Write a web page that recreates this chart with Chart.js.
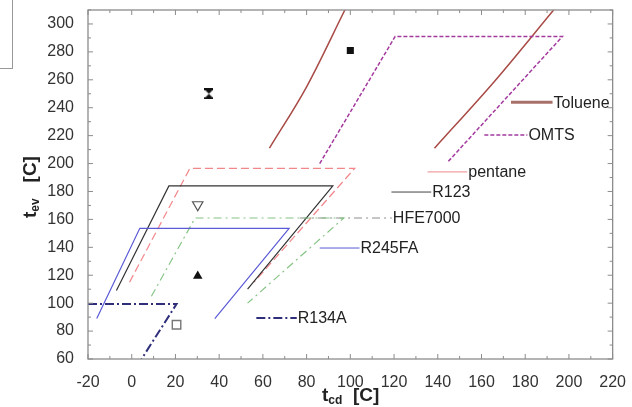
<!DOCTYPE html>
<html>
<head>
<meta charset="utf-8">
<script src="https://cdn.jsdelivr.net/npm/chart.js@4/dist/chart.umd.min.js"></script>
<style>
html, body { margin: 0; padding: 0; background: #fff; }
#wrap { position: relative; width: 632px; height: 407px; overflow: hidden; }
#chart { position: absolute; left: 0; top: 0; }
.atitle { position: absolute; font-family: "Liberation Sans", Arial, sans-serif; font-weight: bold; font-size: 19px; color: #222; white-space: nowrap; line-height: 19px; }
.atitle sub { font-size: 12px; vertical-align: -3px; }
#ytitle { left: 32px; top: 187px; transform: translate(-50%, -50%) rotate(-90deg); }
#xtitle { left: 322px; top: 385px; }
#scrap { position: absolute; left: 0; top: 0; width: 12px; height: 68px; border-right: 1px solid #999; border-bottom: 1px solid #999; }
</style>
</head>
<body>
<div id="wrap">
  <canvas id="chart" width="632" height="407"></canvas>
  <div id="scrap"></div>
  <div class="atitle" id="ytitle">t<sub>ev</sub>&nbsp;&nbsp; [C]</div>
  <div class="atitle" id="xtitle">t<sub>cd</sub>&nbsp; [C]</div>
</div>
<script>
// DATA -----------------------------------------------------------------------

const xTicks = [-20, 0, 20, 40, 60, 80, 100, 120, 140, 160, 180, 200, 220]
const yTicks = [60, 80, 100, 120, 140, 160, 180, 200, 220, 240, 260, 280, 300]

// fluid regions (t_cd, t_ev)
const tolueneLeftX = [63, 80, 97.5]
const tolueneLeftY = [211, 255, 310]
const tolueneRightX = [138.5, 166, 193]
const tolueneRightY = [211, 259, 310]
const omtsX = [86, 120.5, 197, 144.5]
const omtsY = [200, 291, 291, 201]
const pentaneX = [-1, 26.6, 102, 56]
const pentaneY = [115, 196.6, 196.6, 115]
const r123X = [-7, 17, 92, 53]
const r123Y = [109, 184, 184, 110]
const hfeX = [9, 29, 97, 53]
const hfeY = [105, 161, 161, 100]
const r245faX = [-16, 3.7, 72, 38]
const r245faY = [89, 153.6, 153.6, 89]
const r134aX = [-20, 20.5, 4.5]
const r134aY = [99.4, 99.4, 60]

// labels with leader lines
const labelNames = ['Toluene', 'OMTS', 'pentane', 'R123', 'HFE7000', 'R245FA', 'R134A']
const leaderStartX = [173.5, 161.3, 135.3, 118.8, 77, 86, 57]
const leaderEndX = [192.5, 181, 153.5, 137, 119, 104.2, 75.5]
const leaderY = [244, 220.5, 194, 179.6, 161, 139.5, 89.4]

// single points
const markerX = [35.3, 100, 30.2, 30.2, 20.5]
const markerY = [250, 281, 170.5, 119.5, 84.5]

// STYLES ---------------------------------------------------------------------

const fluidStyle = {
    toluene: {color: '#a84a46', width: 1.5, dash: []},
    omts: {color: '#a33a9e', width: 1.5, dash: [4, 2]},
    pentane: {color: '#f2868a', width: 1.2, dash: [8, 4]},
    r123: {color: '#333333', width: 1.2, dash: []},
    hfe: {color: '#86c486', width: 1.2, dash: [8, 4, 2, 4]},
    r245fa: {color: '#5a5ad6', width: 1.2, dash: []},
    r134a: {color: '#2e2e7a', width: 2, dash: [9, 3, 2, 3]}
}
const leaderStyle = [
    {color: '#a8706a', width: 3, dash: []},
    {color: '#a33a9e', width: 1.5, dash: [4, 2]},
    {color: '#f2a0a4', width: 1.2, dash: []},
    {color: '#444444', width: 1, dash: []},
    {color: '#8a8f8a', width: 1, dash: [8, 4, 2, 4]},
    {color: '#5a5ad6', width: 1, dash: []},
    {color: '#2e2e7a', width: 2, dash: [9, 3, 2, 3]}
]

// DATASET OBJECTS ------------------------------------------------------------

function zip(xs, ys) {
    return xs.map((x, i) => ({x: x, y: ys[i]}))
}

function lineDataset(xs, ys, style, curved) {
    return {
        data: zip(xs, ys),
        showLine: true,
        borderColor: style.color,
        borderWidth: style.width,
        borderDash: style.dash,
        pointRadius: 0,
        fill: false,
        tension: curved ? 0.4 : 0,
        cubicInterpolationMode: curved ? 'monotone' : 'default'
    }
}

function hourglass() {
    const c = document.createElement('canvas')
    c.width = 9
    c.height = 11
    const g = c.getContext('2d')
    g.fillStyle = '#111'
    g.fillRect(0, 0, 9, 2)
    g.fillRect(0, 9, 9, 2)
    g.beginPath()
    g.moveTo(1, 2); g.lineTo(8, 2); g.lineTo(4.5, 5.5)
    g.lineTo(8, 9); g.lineTo(1, 9); g.lineTo(4.5, 5.5)
    g.closePath()
    g.fill()
    return c
}

const markerStyle = [
    {style: hourglass(), radius: 6, bg: '#111', border: '#111', bw: 0, rot: 0},
    {style: 'rect', radius: 5, bg: '#111', border: '#111', bw: 0, rot: 0},
    {style: 'triangle', radius: 6, bg: 'rgba(255,255,255,0)', border: '#555', bw: 1.2, rot: 180},
    {style: 'triangle', radius: 5.5, bg: '#111', border: '#111', bw: 0, rot: 0},
    {style: 'rect', radius: 6, bg: '#fff', border: '#777', bw: 1.4, rot: 0}
]

function markerDataset(i) {
    const m = markerStyle[i]
    return {
        data: [{x: markerX[i], y: markerY[i]}],
        showLine: false,
        pointStyle: m.style,
        pointRadius: m.radius,
        pointRotation: m.rot,
        pointBackgroundColor: m.bg,
        pointBorderColor: m.border,
        pointBorderWidth: m.bw
    }
}

const datasets = [
    lineDataset(r134aX, r134aY, fluidStyle.r134a),
    lineDataset(r245faX, r245faY, fluidStyle.r245fa),
    lineDataset(hfeX, hfeY, fluidStyle.hfe),
    lineDataset(r123X, r123Y, fluidStyle.r123),
    lineDataset(pentaneX, pentaneY, fluidStyle.pentane),
    lineDataset(omtsX, omtsY, fluidStyle.omts),
    lineDataset(tolueneLeftX, tolueneLeftY, fluidStyle.toluene, true),
    lineDataset(tolueneRightX, tolueneRightY, fluidStyle.toluene, true)
]
labelNames.forEach((name, i) => {
    datasets.push(lineDataset([leaderStartX[i], leaderEndX[i]], [leaderY[i], leaderY[i]], leaderStyle[i]))
})
markerX.forEach((x, i) => datasets.push(markerDataset(i)))

// PLUGINS --------------------------------------------------------------------

// box frame with inward major and minor ticks
const frameTicks = {
    id: 'frameTicks',
    afterDatasetsDraw(chart) {
        const {ctx, chartArea: a, scales} = chart
        ctx.save()
        ctx.strokeStyle = '#8c8c8c'
        ctx.lineWidth = 1.3
        ctx.strokeRect(a.left, a.top, a.right - a.left, a.bottom - a.top)
        ctx.lineWidth = 1
        ctx.beginPath()
        for (let v = xTicks[0]; v <= xTicks[xTicks.length - 1]; v += 10) {
            const px = scales.x.getPixelForValue(v)
            const len = v % 20 === 0 ? 5 : 3
            ctx.moveTo(px, a.bottom); ctx.lineTo(px, a.bottom - len)
            ctx.moveTo(px, a.top); ctx.lineTo(px, a.top + len)
        }
        for (let v = yTicks[0]; v <= scales.y.max; v += 10) {
            const py = scales.y.getPixelForValue(v)
            const len = v % 20 === 0 ? 5 : 3
            ctx.moveTo(a.left, py); ctx.lineTo(a.left + len, py)
            ctx.moveTo(a.right, py); ctx.lineTo(a.right - len, py)
        }
        ctx.stroke()
        ctx.restore()
    }
}

// fluid names at the end of their leader lines
const fluidLabels = {
    id: 'fluidLabels',
    afterDatasetsDraw(chart) {
        const {ctx, scales} = chart
        ctx.save()
        ctx.font = '16px "Liberation Sans", Arial, sans-serif'
        ctx.fillStyle = '#222'
        ctx.textAlign = 'left'
        ctx.textBaseline = 'middle'
        labelNames.forEach((name, i) => {
            ctx.fillText(name, scales.x.getPixelForValue(leaderEndX[i]) + 1, scales.y.getPixelForValue(leaderY[i]) + 1)
        })
        ctx.restore()
    }
}

// CHART ----------------------------------------------------------------------

const tickFont = {family: '"Liberation Sans", Arial, sans-serif', size: 16}

new Chart(document.getElementById('chart'), {
    type: 'scatter',
    data: {datasets: datasets},
    options: {
        responsive: false,
        animation: false,
        layout: {padding: {left: 0, top: 10, right: 18, bottom: 0}},
        plugins: {
            legend: {display: false},
            tooltip: {enabled: false}
        },
        scales: {
            x: {
                type: 'linear',
                min: xTicks[0],
                max: xTicks[xTicks.length - 1],
                afterFit: s => { s.height = 48 },
                afterBuildTicks: s => { s.ticks = xTicks.map(v => ({value: v})) },
                grid: {display: false},
                border: {display: false},
                ticks: {font: tickFont, color: '#333', padding: 6, maxRotation: 0}
            },
            y: {
                type: 'linear',
                min: yTicks[0],
                max: 310,
                afterFit: s => { s.width = 88; s.paddingTop = 0; s.paddingBottom = 0 },
                afterBuildTicks: s => { s.ticks = yTicks.map(v => ({value: v})) },
                grid: {display: false},
                border: {display: false},
                ticks: {font: tickFont, color: '#333', padding: 6}
            }
        }
    },
    plugins: [frameTicks, fluidLabels]
});
</script>
</body>
</html>
